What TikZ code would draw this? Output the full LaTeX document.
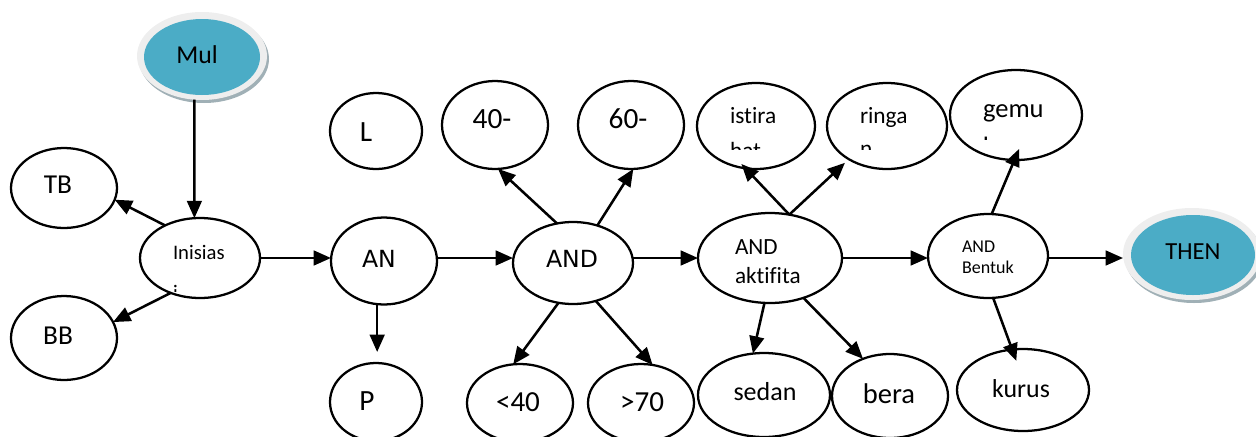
\documentclass[tikz,border=0pt]{standalone}
\usepackage{fontspec}
\setmainfont{Carlito}[Ligatures=NoCommon]
\newfontfamily\dejavu{DejaVu Sans}
\usetikzlibrary{shapes.geometric,arrows.meta}
\definecolor{accentblue}{RGB}{75,172,198}
\definecolor{haloGray}{RGB}{238,238,238}
\definecolor{haloShadow}{RGB}{160,176,182}
\newcommand{\txtsize}[1]{\fontsize{#1pt}{#1pt}\selectfont}

\begin{document}
\begin{tikzpicture}[x=0.75pt,y=-0.75pt,
  oval/.style 2 args={ellipse, draw, line width=1.7pt, inner sep=0pt, outer sep=0pt,
    minimum width=#1*0.75pt, minimum height=#2*0.75pt},
  blueoval/.style 2 args={ellipse, fill=accentblue, inner sep=0pt, outer sep=0pt,
    minimum width=#1*0.75pt, minimum height=#2*0.75pt},
  halo/.style 2 args={ellipse, fill=haloGray, inner sep=0pt, outer sep=0pt,
    minimum width=#1*0.75pt, minimum height=#2*0.75pt},
  lbl/.style={inner sep=0pt, outer sep=0pt, anchor=base},
  lbll/.style={inner sep=0pt, outer sep=0pt, anchor=base west},
  arr/.style={line width=1.9pt, -{Triangle[length=13pt,width=11pt]}}
]
\useasboundingbox (0,0) rectangle (1256,436);
\clip (0,0) rectangle (1256,436);

% highlighted start and end nodes
\node[halo={130}{88}, fill=haloShadow] (mulsh) at (204,59) {};
\node[halo={130}{88}] (mul) at (202,56) {};
\node[blueoval={116}{76}] (mulcore) at (202,57) {};
\node[lbl, font=\txtsize{19.3}] (tmul) at (197,63) {Mul};

\node[halo={138}{92}, fill=haloShadow] (thensh) at (1194,257) {};
\node[halo={138}{92}] (then) at (1192,254) {};
\node[blueoval={124}{80}] (thencore) at (1193,255) {};
\node[lbl, font=\txtsize{18.4}] (tthen) at (1193,259) {THEN};

% plain ellipses
\node[oval={106}{80}] (tb) at (64,188) {};
\node[oval={106}{84}] (bb) at (64,338) {};
\node[oval={120}{80}] (inis) at (200,258) {};
\node[oval={92}{76}] (lnode) at (376,131) {};
\node[oval={106}{88}] (n40) at (495,125) {};
\node[oval={106}{88}] (n60) at (631,125) {};
\node[oval={106}{87}] (an) at (384,261) {};
\node[oval={120}{82}] (andA) at (573,263) {};
\node[oval={92}{78}] (p) at (376,402) {};
\node[oval={106}{78}] (lt40) at (520,403) {};
\node[oval={106}{78}] (gt70) at (641,403) {};
\node[oval={144}{90}] (akt) at (770,258) {};
\node[oval={118}{86}] (ist) at (756,126) {};
\node[oval={120}{86}] (ring) at (887,126) {};
\node[oval={132}{90}] (gemu) at (1016,115) {};
\node[oval={120}{84}] (bent) at (988,256) {};
\node[oval={132}{84}] (sedan) at (764,395) {};
\node[oval={116}{84}] (bera) at (890,396) {};
\node[oval={132}{82}] (kurus) at (1023,390) {};

% labels
\node[lbl, font=\txtsize{20.5}] (ttb) at (58,193) {TB};
\node[lbl, font=\txtsize{20.5}] (tbb) at (58,344) {BB};
\node[lbll, font=\txtsize{15.5}] (tinis) at (173,259) {Inisias};
\begin{scope}
  \clip (150,270) rectangle (250,291.5);
  \node[lbll, font=\txtsize{15.5}] (tinisb) at (173,299) {i};
\end{scope}
\node[lbl, font=\txtsize{22}] (tl) at (366,141) {L};
\node[lbl, font=\txtsize{22}] (t40) at (492,128) {40-};
\node[lbl, font=\txtsize{22}] (t60) at (628,128) {60-};
\node[lbl, font=\dejavu\txtsize{17.7}] (tan) at (379,267) {AN};
\node[lbl, font=\dejavu\txtsize{17.7}] (tand) at (572,267) {AND};
\node[lbl, font=\txtsize{22}] (tp) at (367,410) {P};
\node[lbl, font=\txtsize{21.8}] (tlt) at (518,411) {<40};
\node[lbl, font=\txtsize{21.8}] (tgt) at (642,411) {>70};
\node[lbll, font=\txtsize{17.4}] (takt1) at (735,254) {AND};
\node[lbll, font=\txtsize{17.4}] (takt2) at (735,283) {aktifita};
\node[lbll, font=\txtsize{17.5}] (tist) at (730,123) {istira};
\node[lbll, font=\txtsize{17.5}] (tring) at (860,123) {ringa};
\node[lbll, font=\txtsize{19.9}] (tgemu) at (983,117) {gemu};
\begin{scope}
  \clip (700,130) rectangle (1080,149);
  \node[lbll, font=\txtsize{17.5}] (tistb) at (730,158) {hat};
  \node[lbll, font=\txtsize{17.5}] (tringb) at (860,156) {n};
\end{scope}
\begin{scope}
  \clip (970,125) rectangle (1060,139.5);
  \node[lbll, font=\txtsize{19.9}] (tgemub) at (983,155) {k};
\end{scope}
\node[lbll, font=\txtsize{13.5}] (tbent1) at (962,252) {AND};
\node[lbll, font=\txtsize{13.5}] (tbent2) at (962,273) {Bentuk};
\node[lbl, font=\txtsize{19.5}] (tsedan) at (765,400) {sedan};
\node[lbl, font=\txtsize{21.4}] (tbera) at (889,403) {bera};
\node[lbl, font=\txtsize{19.4}] (tkurus) at (1021,397) {kurus};

% connectors: the main chain runs level with the Inisias node
\draw[arr] (inis.east) -- (inis.east -| an.west);
\draw[arr] (an.east |- inis.east) -- (inis.east -| andA.west);
\draw[arr] (andA.east |- inis.east) -- (inis.east -| akt.west);
\draw[arr] (akt.east |- inis.east) -- (inis.east -| bent.west);
\draw[arr] (bent.east |- inis.east) -- (inis.east -| then.west);
% branches
\draw[arr] (mul.-100) -- (inis.98);
\draw[arr] (inis.137) -- (tb.-13);
\draw[arr] (inis.-130) -- (bb.18);
\draw[arr, shorten >=8.25pt] (an.-99) -- (an.-99 |- p.north);
\draw[arr] (andA.112) -- (n40.-86);
\draw[arr] (andA.57) -- (n60.-87);
\draw[arr] (andA.-110) -- (lt40.100);
\draw[arr] (andA.-59) -- (gt70.73);
\draw[arr, shorten >=-4.5pt] (akt.66) -- (ist.-104);
\draw[arr, shorten >=4pt] (akt.66) -- (ring.-139);
\draw[arr] (akt.-97) -- (sedan.105);
\draw[arr] (akt.-50) -- (bera.126);
\draw[arr, shorten >=-9pt] (bent.85) -- (gemu.-92);
\draw[arr, shorten >=-9pt] (bent.-83) -- (kurus.105);
\end{tikzpicture}
\end{document}
